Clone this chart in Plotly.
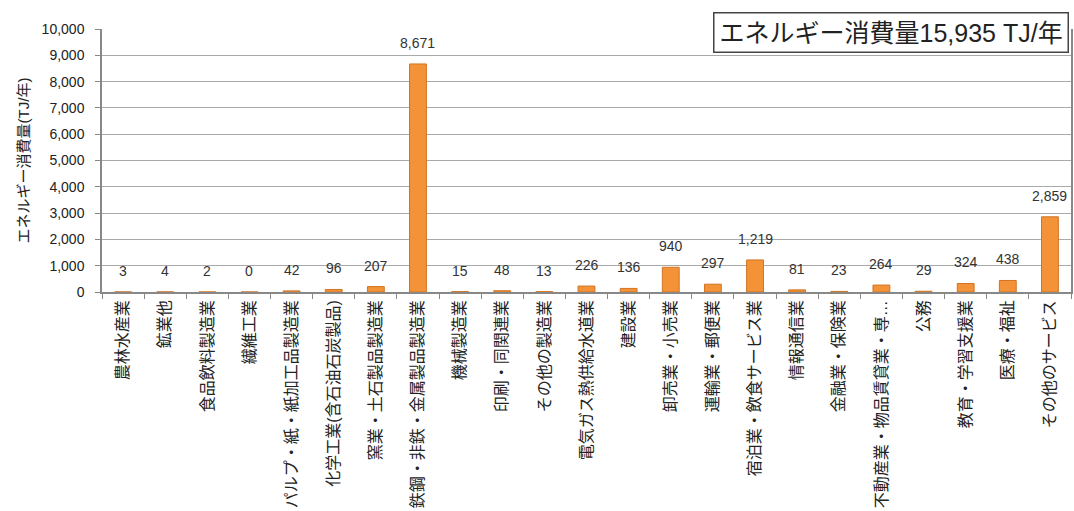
import plotly.graph_objects as go

categories = [
    "農林水産業", "鉱業他", "食品飲料製造業", "繊維工業",
    "パルプ・紙・紙加工品製造業", "化学工業(含石油石炭製品)", "窯業・土石製品製造業",
    "鉄鋼・非鉄・金属製品製造業", "機械製造業", "印刷・同関連業", "その他の製造業",
    "電気ガス熱供給水道業", "建設業", "卸売業・小売業", "運輸業・郵便業",
    "宿泊業・飲食サービス業", "情報通信業", "金融業・保険業",
    "不動産業・物品賃貸業・専…", "公務", "教育・学習支援業", "医療・福祉",
    "その他のサービス",
]
values = [3, 4, 2, 0, 42, 96, 207, 8671, 15, 48, 13, 226, 136, 940, 297,
          1219, 81, 23, 264, 29, 324, 438, 2859]
y_ticks = list(range(0, 10001, 1000))
y_ticklabels = [f"{v:,}" for v in y_ticks]
total_label = "エネルギー消費量15,935 TJ/年"
y_title = "エネルギー消費量(TJ/年)"

FONT = "Liberation Sans, Noto Sans CJK JP, sans-serif"

fig = go.Figure()
fig.add_trace(go.Bar(
    x=categories, y=values,
    marker=dict(color="#F39237", line=dict(color="#D07426", width=1)),
    hoverinfo="x+y",
))

for c, v in zip(categories, values):
    fig.add_annotation(
        x=c, y=v, text=f"{v:,}", showarrow=False,
        yanchor="bottom", yshift=11,
        font=dict(family=FONT, size=14, color="#333333"),
    )

fig.add_annotation(
    xref="paper", yref="paper", x=0.998, y=1.065, xanchor="right", yanchor="top",
    text=total_label, showarrow=False,
    font=dict(family=FONT, size=25, color="#222222"),
    bgcolor="white", bordercolor="#444444", borderwidth=1.5, borderpad=5,
)

fig.update_layout(
    width=1074, height=511,
    margin=dict(l=102, r=3, t=29, b=219),
    plot_bgcolor="white", paper_bgcolor="white",
    showlegend=False, bargap=0.6,
    font=dict(family=FONT, color="#222222"),
    xaxis=dict(
        tickangle=-90, tickfont=dict(family=FONT, size=16, color="#222222"),
        showline=True, linecolor="#888888", linewidth=1.5,
        ticks="outside", ticklen=5, tickcolor="#888888",
        tickson="boundaries", automargin=False, showgrid=False,
    ),
    yaxis=dict(
        range=[0, 10000], tickvals=y_ticks, ticktext=y_ticklabels,
        tickfont=dict(family=FONT, size=14, color="#222222"),
        ticklabelstandoff=8,
        showline=True, linecolor="#888888", linewidth=1.5, mirror=True,
        ticks="outside", ticklen=5, tickcolor="#888888",
        showgrid=True, gridcolor="#aaaaaa", gridwidth=1,
        title=dict(text=y_title, font=dict(family=FONT, size=15, color="#222222"), standoff=8),
        automargin=False, zeroline=False,
    ),
)

fig.write_html("out.html")
